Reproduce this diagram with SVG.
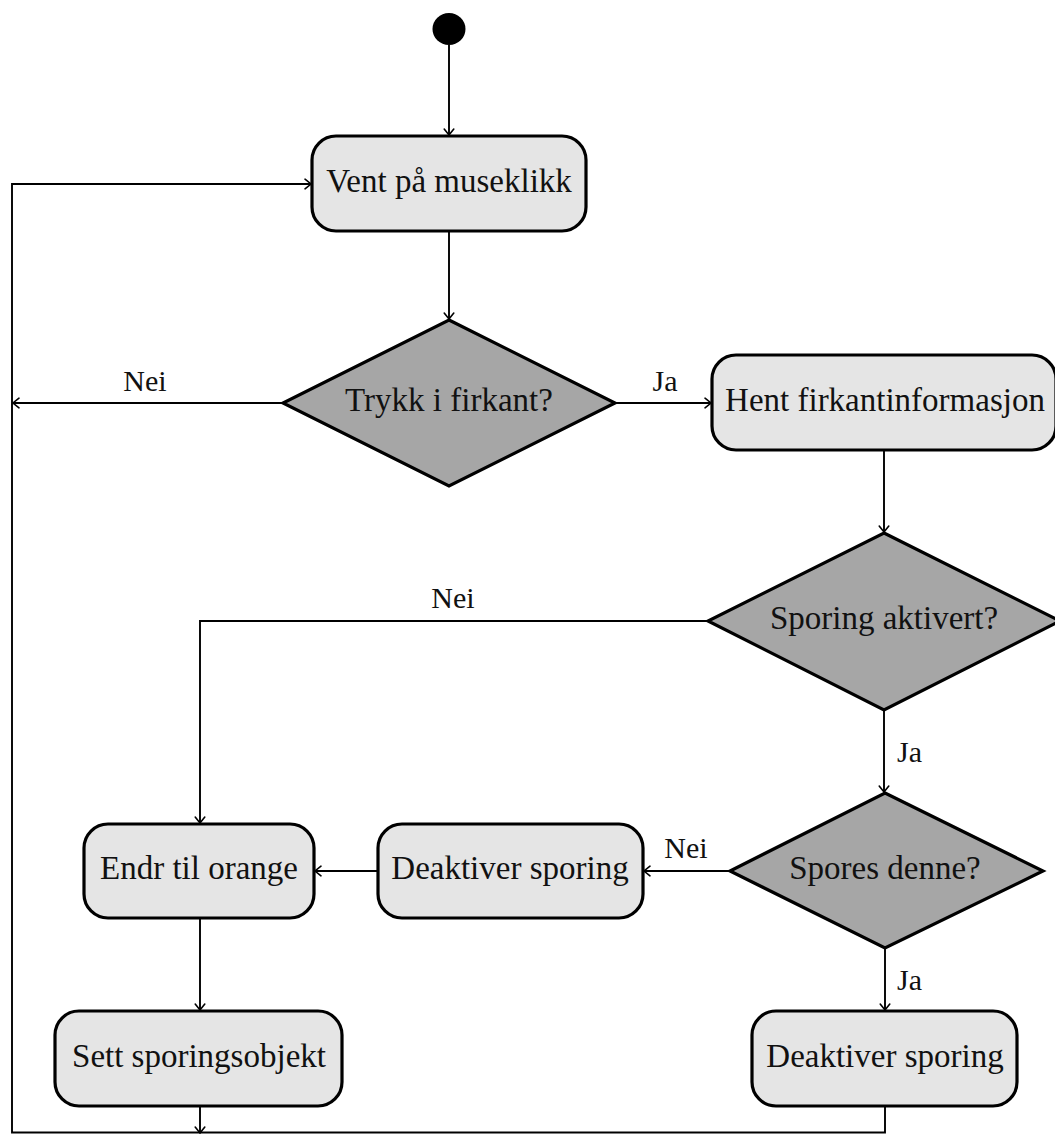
<svg xmlns="http://www.w3.org/2000/svg" width="1055" height="1134" viewBox="0 0 1055 1134">
<style>
.box{fill:#e5e5e5;stroke:#000;stroke-width:3.2}
.dia{fill:#a6a6a6;stroke:#000;stroke-width:3.2}
.t{font-size:33px;fill:#111;text-anchor:middle}
.lbl{font-size:30px;fill:#111}
.c{fill:none;stroke:#000;stroke-width:1.9}
</style>
<defs>
<marker id="arr" markerUnits="userSpaceOnUse" markerWidth="14" markerHeight="14" viewBox="-8 -7 10 14" refX="0" refY="0" orient="auto">
<path d="M -6 -4.8 Q -1.5 -1.2 0 0 Q -1.5 1.2 -6 4.8" fill="none" stroke="#000" stroke-width="1.6" stroke-linecap="round"/>
</marker>
</defs>
<rect width="1055" height="1134" fill="#fff"/>
<g id="diagram" font-family="Liberation Serif, DejaVu Serif, serif">
<g id="connectors">
<path class="c" d="M449 45 V135" marker-end="url(#arr)"/>
<path class="c" d="M449 231 V319" marker-end="url(#arr)"/>
<path class="c" d="M283 403 H13" marker-end="url(#arr)"/>
<path class="c" d="M615 403 H711" marker-end="url(#arr)"/>
<path class="c" d="M884 450 V532" marker-end="url(#arr)"/>
<path class="c" d="M708 621 H200 V823" marker-end="url(#arr)"/>
<path class="c" d="M884 710 V792" marker-end="url(#arr)"/>
<path class="c" d="M730 871 H644" marker-end="url(#arr)"/>
<path class="c" d="M885 948 V1010" marker-end="url(#arr)"/>
<path class="c" d="M378 871 H315" marker-end="url(#arr)"/>
<path class="c" d="M200 918 V1010" marker-end="url(#arr)"/>
<path class="c" d="M200 1106 V1133" marker-end="url(#arr)"/>
<path class="c" d="M885 1106 V1132.5 H12 V184 H311" marker-end="url(#arr)"/>
<text class="lbl" x="145" y="391" text-anchor="middle">Nei</text>
<text class="lbl" x="665" y="391" text-anchor="middle">Ja</text>
<text class="lbl" x="453" y="608" text-anchor="middle">Nei</text>
<text class="lbl" x="897" y="762">Ja</text>
<text class="lbl" x="686" y="858" text-anchor="middle">Nei</text>
<text class="lbl" x="897" y="990">Ja</text>
</g>
<g id="start"><ellipse cx="449" cy="29" rx="16.5" ry="16" fill="#000"/></g>
<g id="vent"><rect class="box" x="312" y="136" width="274" height="95" rx="24"/><text class="t" x="449" y="192">Vent på museklikk</text></g>
<g id="trykk"><polygon class="dia" points="449,320 615,403 449,486 283,403"/><text class="t" x="449" y="411">Trykk i firkant?</text></g>
<g id="hent"><rect class="box" x="712" y="355" width="344" height="95" rx="24"/><text class="t" x="885" y="411">Hent firkantinformasjon</text></g>
<g id="sporing"><polygon class="dia" points="884,533 1060,621 884,710 708,621"/><text class="t" x="884" y="629">Sporing aktivert?</text></g>
<g id="spores"><polygon class="dia" points="885,793 1043,871 885,948 730,871"/><text class="t" x="885" y="879">Spores denne?</text></g>
<g id="deakt1"><rect class="box" x="378" y="824" width="265" height="94" rx="24"/><text class="t" x="510" y="879">Deaktiver sporing</text></g>
<g id="endr"><rect class="box" x="84" y="824" width="230" height="94" rx="24"/><text class="t" x="199" y="879">Endr til orange</text></g>
<g id="sett"><rect class="box" x="55" y="1011" width="287" height="95" rx="24"/><text class="t" x="199" y="1067">Sett sporingsobjekt</text></g>
<g id="deakt2"><rect class="box" x="752" y="1011" width="265" height="95" rx="24"/><text class="t" x="885" y="1067">Deaktiver sporing</text></g>
</g>
</svg>
